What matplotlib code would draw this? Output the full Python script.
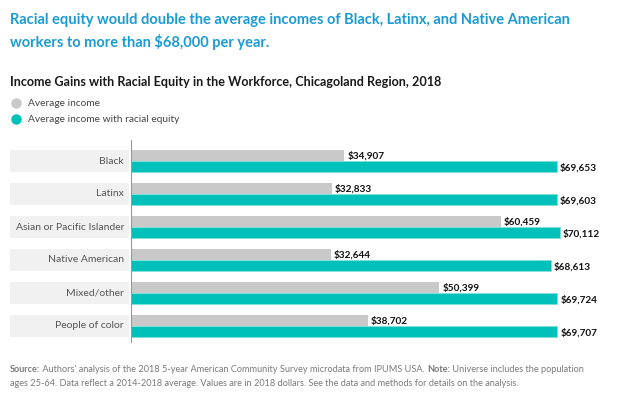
import matplotlib.pyplot as plt
import matplotlib.transforms as mtransforms
from matplotlib.patches import Rectangle

plt.rcParams['font.family'] = ['Lato', 'DejaVu Sans']

categories = ["Black", "Latinx", "Asian or Pacific Islander", "Native American",
              "Mixed/other", "People of color"]
avg_income = [34907, 32833, 60459, 32644, 50399, 38702]
equity_income = [69653, 69603, 70112, 68613, 69724, 69707]

W, H = 624, 399
fig = plt.figure(figsize=(W / 100, H / 100), dpi=100)

def fx(px):
    return px / W

def fy(py):
    return 1 - py / H

ax_l, ax_r, ax_t, ax_b = 131, 600, 140, 342
ax = fig.add_axes([fx(ax_l), fy(ax_b), fx(ax_r - ax_l), (ax_b - ax_t) / H])

gray = "#c9c9c9"
teal = "#00c1b9"
bh = 0.33
ys = range(len(categories))

ax.barh([y - bh / 2 for y in ys], avg_income, height=bh, color=gray, linewidth=0)
ax.barh([y + bh / 2 for y in ys], equity_income, height=bh, color=teal,
        edgecolor="#7fe0db", linewidth=0.6)

for y, v in zip(ys, avg_income):
    ax.text(v + 500, y - bh / 2, f"${v:,}", va="center", ha="left",
            fontsize=7.2, fontweight="bold", color="#111111")
for y, v in zip(ys, equity_income):
    ax.text(v + 500, y + bh / 2 + 0.04, f"${v:,}", va="center", ha="left",
            fontsize=7.2, fontweight="bold", color="#111111")

pitch = 33.0
top_off = (161 - ax_t) / pitch
ax.set_ylim((ax_b - ax_t) / pitch - top_off, -top_off)
ax.set_xlim(0, 69653 * (ax_r - ax_l) / (557 - ax_l))

# category label bands
trans = mtransforms.blended_transform_factory(ax.transAxes, ax.transData)
bx0 = (10 - ax_l) / (ax_r - ax_l)
bw = (129 - 10) / (ax_r - ax_l)
for y, name in zip(ys, categories):
    ax.add_patch(Rectangle((bx0, y - bh), bw, 2 * bh, transform=trans,
                           facecolor="#f1f1f1", edgecolor="none", clip_on=False))
    ax.text((124 - ax_l) / (ax_r - ax_l), y, name, transform=trans,
            ha="right", va="center", fontsize=7.5, color="#555555")

for s in ["top", "right", "bottom"]:
    ax.spines[s].set_visible(False)
ax.spines["left"].set_color("#999999")
ax.spines["left"].set_linewidth(0.8)
ax.set_xticks([])
ax.set_yticks([])

# titles
blue = "#1b9bd6"
fig.text(fx(10), fy(20), "Racial equity would double the average incomes of Black, Latinx, and Native American",
         fontsize=10.5, fontweight="bold", color=blue, va="center")
fig.text(fx(10), fy(42), "workers to more than $68,000 per year.",
         fontsize=10.5, fontweight="bold", color=blue, va="center")
fig.text(fx(10), fy(82), "Income Gains with Racial Equity in the Workforce, Chicagoland Region, 2018",
         fontsize=9.1, fontweight="bold", color="#1a1a1a", va="center")

# legend
fig.lines.append(plt.Line2D([fx(16)], [fy(103)], marker="o", markersize=6.5,
                            color=gray, transform=fig.transFigure))
fig.lines.append(plt.Line2D([fx(16)], [fy(119)], marker="o", markersize=6.5,
                            color=teal, transform=fig.transFigure))
fig.text(fx(28), fy(103), "Average income", fontsize=7.3, color="#444444", va="center")
fig.text(fx(28), fy(119), "Average income with racial equity", fontsize=7.3, color="#444444", va="center")

# footnote with mixed weights
fig.canvas.draw()
renderer = fig.canvas.get_renderer()

def rich_line(x_px, y_px, parts):
    x = fx(x_px)
    for txt, bold in parts:
        t = fig.text(x, fy(y_px), txt, fontsize=6.55, color="#7a7a7a", va="center",
                     fontweight="bold" if bold else "normal")
        bb = t.get_window_extent(renderer=renderer)
        x += bb.width / W

rich_line(10, 369, [("Source:", True),
                    (" Authors' analysis of the 2018 5-year American Community Survey microdata from IPUMS USA. ", False),
                    ("Note:", True),
                    (" Universe includes the population", False)])
rich_line(10, 384, [("ages 25-64. Data reflect a 2014-2018 average. Values are in 2018 dollars. See the data and methods for details on the analysis.", False)])

fig.savefig("out.png", dpi=100)
